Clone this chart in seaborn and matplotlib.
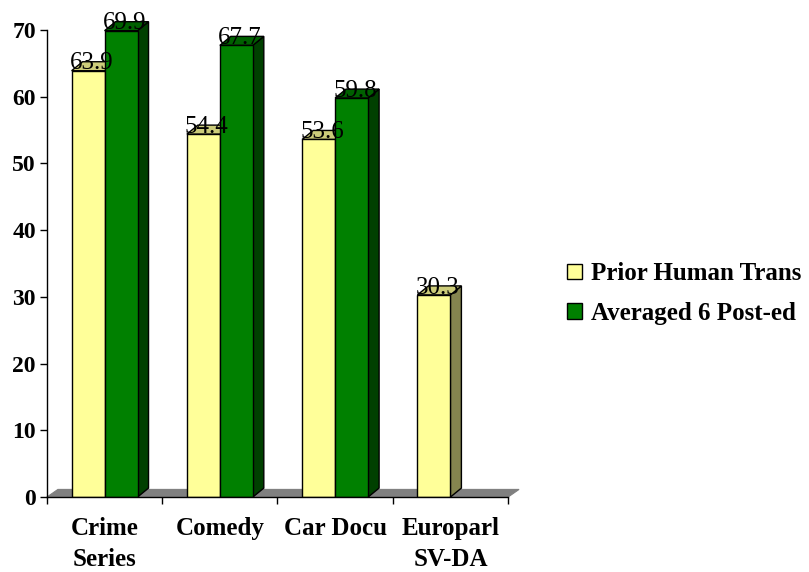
import matplotlib
matplotlib.use("Agg")
import matplotlib.pyplot as plt
from matplotlib.patches import Polygon, Patch
import seaborn as sns
import pandas as pd
import numpy as np

categories = ["Crime\nSeries", "Comedy", "Car Docu", "Europarl\nSV-DA"]
series_names = ["Prior Human Trans", "Averaged 6 Post-ed"]
prior_human = [63.9, 54.4, 53.6, 30.3]
post_edited = [69.9, 67.7, 59.8, np.nan]

front_colors = ["#FFFF99", "#008000"]
top_colors = ["#CCCC7A", "#006000"]
side_colors = ["#85854F", "#004000"]

sns.set_theme(style="white")
plt.rcParams["font.family"] = ["Liberation Serif", "DejaVu Serif"]
plt.rcParams["text.color"] = "black"
plt.rcParams["xtick.color"] = "black"
plt.rcParams["ytick.color"] = "black"
plt.rcParams["axes.labelcolor"] = "black"

df = pd.DataFrame({
    "category": categories * 2,
    "series": [series_names[0]] * 4 + [series_names[1]] * 4,
    "value": prior_human + post_edited,
})

fig = plt.figure(figsize=(8.09, 5.72), dpi=100)
ax = fig.add_axes([0.058, 0.131, 0.570, 0.8165])

sns.barplot(data=df, x="category", y="value", hue="series", order=categories,
            hue_order=series_names, palette=front_colors, width=0.572,
            edgecolor="black", linewidth=1.0, saturation=1, ax=ax, legend=True)

ax.set_xlim(-0.5, 3.5)
ax.set_ylim(0, 70)

# depth offset of the 3-D look, in pixels converted to data units
fig.canvas.draw()
bbox = ax.get_window_extent()
px_x = (ax.get_xlim()[1] - ax.get_xlim()[0]) / bbox.width
px_y = (ax.get_ylim()[1] - ax.get_ylim()[0]) / bbox.height
DX = 11 * px_x
DY = 9 * px_y

# grey floor
floor = Polygon([(-0.5, 0), (3.5, 0), (3.5 + DX, DY * 0.85), (-0.5 + DX, DY * 0.85)],
                closed=True, facecolor="#808080", edgecolor="#808080", lw=0.8,
                zorder=0.4, clip_on=False)
ax.add_patch(floor)

values = {0: prior_human, 1: post_edited}
for i, container in enumerate(ax.containers):
    for bar, val in zip(container.patches, values[i]):
        if np.isnan(val):
            bar.set_visible(False)
            continue
        x0 = bar.get_x()
        w = bar.get_width()
        h = bar.get_height()
        bar.set_zorder(2)
        top = Polygon([(x0, h), (x0 + w, h), (x0 + w + DX, h + DY), (x0 + DX, h + DY)],
                      closed=True, facecolor=top_colors[i], edgecolor="black",
                      lw=1.0, zorder=1, clip_on=False)
        side = Polygon([(x0 + w, 0), (x0 + w + DX, DY), (x0 + w + DX, h + DY), (x0 + w, h)],
                       closed=True, facecolor=side_colors[i], edgecolor="black",
                       lw=1.0, zorder=1, clip_on=False)
        ax.add_patch(side)
        ax.add_patch(top)
        ax.text(x0 + w / 2 + DX * 0.3, h + 0.2, f"{val:.1f}", ha="center",
                va="baseline", fontsize=18, color="black", zorder=5, clip_on=False)

# axes styling
for s in ["top", "right"]:
    ax.spines[s].set_visible(False)
for s in ["left", "bottom"]:
    ax.spines[s].set_color("black")
    ax.spines[s].set_linewidth(1.0)

ax.set_yticks(range(0, 71, 10))
ax.set_yticklabels([str(v) for v in range(0, 71, 10)], fontsize=17, fontweight="bold")
ax.tick_params(axis="y", which="major", left=True, direction="out", length=5,
               width=1, color="black", pad=3)

ax.set_xticks(range(len(categories)))
ax.set_xticklabels(categories, fontsize=18, fontweight="bold", linespacing=1.45)
ax.set_xticks(np.arange(-0.5, 3.6, 1.0), minor=True)
ax.tick_params(axis="x", which="major", length=0, pad=14)
ax.tick_params(axis="x", which="minor", bottom=True, direction="out", length=5,
               width=1, color="black")
ax.set_xlabel("")
ax.set_ylabel("")
ax.grid(False)

ax.get_legend().remove()
handles = [Patch(facecolor=c, edgecolor="black", lw=1.0) for c in front_colors]
fig.legend(handles, series_names, loc="center left", bbox_to_anchor=(0.701, 0.487),
           frameon=False, prop={"size": 18, "weight": "bold"},
           handlelength=0.6, handleheight=0.6, handletextpad=0.35,
           labelspacing=0.65, borderpad=0, borderaxespad=0)

fig.savefig("out.png", dpi=100, facecolor="white")
